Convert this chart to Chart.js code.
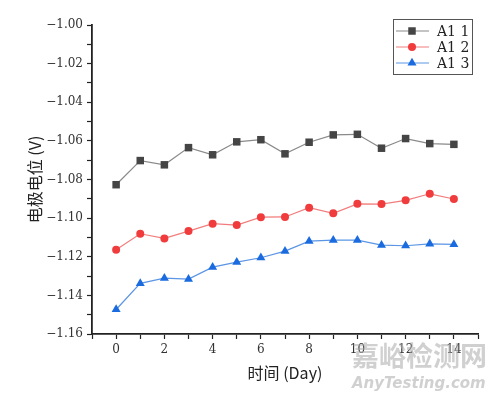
<!DOCTYPE html>
<html>
<head>
<meta charset="utf-8">
<script src="https://cdn.jsdelivr.net/npm/chart.js@4.4.0/dist/chart.umd.min.js"></script>
<style>
  html, body { margin: 0; padding: 0; background: #fff; }
  canvas { display: block; }
</style>
</head>
<body>
<canvas id="potentialChart" width="500" height="395"></canvas>
<script>
// values
const days = [0, 1, 2, 3, 4, 5, 6, 7, 8, 9, 10, 11, 12, 13, 14];
const a1One = [-1.0827, -1.0702, -1.0724, -1.0635, -1.0672, -1.0605, -1.0594, -1.0667, -1.0607, -1.0569, -1.0566, -1.0638, -1.0588, -1.0614, -1.0618];
const a1Two = [-1.1164, -1.1081, -1.1105, -1.1067, -1.1029, -1.1036, -1.0995, -1.0994, -1.0946, -1.0975, -1.0926, -1.0927, -1.0908, -1.0874, -1.0901];
const a1Three = [-1.1473, -1.1338, -1.1311, -1.1316, -1.1254, -1.1228, -1.1205, -1.1171, -1.1119, -1.1114, -1.1114, -1.1140, -1.1143, -1.1133, -1.1136];
const seriesLabels = ['A1 1', 'A1 2', 'A1 3'];
const xTickLabels = [0, 2, 4, 6, 8, 10, 12, 14];
const yTickLabels = [-1.16, -1.14, -1.12, -1.10, -1.08, -1.06, -1.04, -1.02, -1.00];

const serif = '"DejaVu Serif", "Liberation Serif", serif';
const cjk = '"Noto Sans CJK SC", "DejaVu Serif", sans-serif';

function toPoints(values) {
  return days.map((d, i) => ({ x: d, y: values[i] }));
}

// legend box drawn inside the plot, plus the faint site watermark
const legendBox = {
  id: 'legendBox',
  afterDraw(chart) {
    const ctx = chart.ctx;
    ctx.save();
    ctx.strokeStyle = '#555';
    ctx.lineWidth = 1;
    ctx.strokeRect(393.5, 19.5, 79, 55);
    chart.data.datasets.forEach((ds, i) => {
      const y = 31 + i * 16;
      ctx.strokeStyle = ds.borderColor;
      ctx.lineWidth = 1.2;
      ctx.beginPath();
      ctx.moveTo(396, y);
      ctx.lineTo(429, y);
      ctx.stroke();
      ctx.fillStyle = ds.pointBackgroundColor;
      ctx.strokeStyle = ds.pointBorderColor;
      Chart.helpers.drawPoint(ctx, { pointStyle: ds.pointStyle, radius: ds.pointRadius, borderWidth: 0, rotation: 0 }, 412, y);
      ctx.fillStyle = '#222';
      ctx.font = '14px ' + serif;
      ctx.textBaseline = 'middle';
      ctx.fillText(ds.label, 437, y + 1);
    });

    ctx.fillStyle = 'rgba(170, 170, 170, 0.55)';
    ctx.textBaseline = 'alphabetic';
    ctx.font = 'bold 27px ' + cjk;
    ctx.fillText('嘉峪检测网', 352, 366);
    ctx.font = 'italic bold 15px "DejaVu Sans", sans-serif';
    ctx.fillText('AnyTesting.com', 352, 388);
    ctx.restore();
  },
};

new Chart(document.getElementById('potentialChart').getContext('2d'), {
  type: 'line',
  data: {
    datasets: [
      {
        label: seriesLabels[0],
        data: toPoints(a1One),
        borderColor: '#8a8a8a',
        borderWidth: 1.2,
        pointStyle: 'rect',
        pointRadius: 5.3,
        pointBackgroundColor: '#454545',
        pointBorderColor: '#454545',
        pointBorderWidth: 0,
      },
      {
        label: seriesLabels[1],
        data: toPoints(a1Two),
        borderColor: '#f27c7c',
        borderWidth: 1.2,
        pointStyle: 'circle',
        pointRadius: 4,
        pointBackgroundColor: '#f03c3c',
        pointBorderColor: '#f03c3c',
        pointBorderWidth: 0,
      },
      {
        label: seriesLabels[2],
        data: toPoints(a1Three),
        borderColor: '#5b95e5',
        borderWidth: 1.2,
        pointStyle: 'triangle',
        pointRadius: 5.2,
        pointBackgroundColor: '#1a6be0',
        pointBorderColor: '#1a6be0',
        pointBorderWidth: 0,
      },
    ],
  },
  options: {
    responsive: false,
    animation: false,
    layout: { padding: { top: 25, right: 22, left: 0, bottom: 0 } },
    plugins: {
      legend: { display: false },
      tooltip: { enabled: false },
    },
    scales: {
      x: {
        type: 'linear',
        min: -1,
        max: 15,
        afterFit(scale) {
          scale.height = 61;
        },
        ticks: {
          stepSize: 1,
          autoSkip: false,
          maxRotation: 0,
          padding: 4,
          color: '#333',
          font: { family: serif, size: 12 },
          callback: (v) => (xTickLabels.includes(v) ? String(v) : ''),
        },
        grid: { drawOnChartArea: false, tickLength: 5, tickColor: '#222', tickWidth: 1.2 },
        border: { color: '#222', width: 1.8 },
        title: {
          display: true,
          text: '时间 (Day)',
          color: '#222',
          font: { family: cjk, size: 16 },
          padding: { top: 0, bottom: 12 },
        },
      },
      y: {
        min: -1.16,
        max: -1.0,
        afterFit(scale) {
          scale.width = 92;
        },
        ticks: {
          stepSize: 0.01,
          autoSkip: false,
          padding: 4,
          color: '#333',
          font: { family: serif, size: 12 },
          callback: (v) => {
            const hit = yTickLabels.find((t) => Math.abs(t - v) < 1e-6);
            return hit === undefined ? '' : '\u2212' + Math.abs(hit).toFixed(2);
          },
        },
        grid: { drawOnChartArea: false, tickLength: 5, tickColor: '#222', tickWidth: 1.2 },
        border: { color: '#222', width: 1.8 },
        title: {
          display: true,
          text: '电极电位 (V)',
          color: '#222',
          font: { family: cjk, size: 16 },
          padding: { top: 25, bottom: 0 },
        },
      },
    },
  },
  plugins: [legendBox],
});
</script>
</body>
</html>
